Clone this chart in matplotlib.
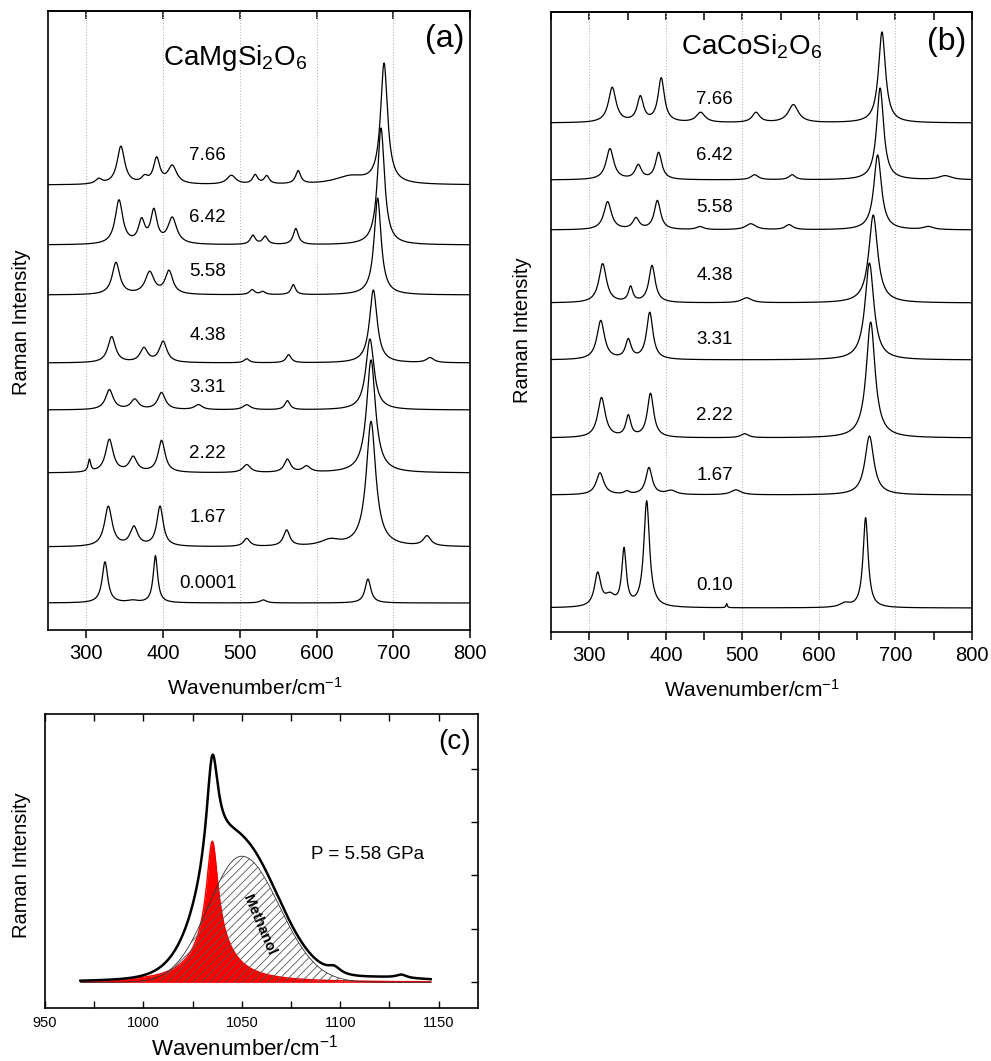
import numpy as np
import matplotlib
matplotlib.use("Agg")
import matplotlib.pyplot as plt
from matplotlib.ticker import MultipleLocator

plt.rcParams['font.family'] = ['Liberation Sans', 'DejaVu Sans']
plt.rcParams['mathtext.default'] = 'regular'
plt.rcParams['hatch.linewidth'] = 0.6

# ---------------- data: panel (a) CaMgSi2O6 ----------------
A_LABELS = ["7.66", "6.42", "5.58", "4.38", "3.31", "2.22", "1.67", "0.0001"]
A_OFFSETS = [445, 385, 335, 267, 220, 157, 83, 27]
A_LABEL_Y = [475, 413, 359, 295, 243, 177, 113, 46]
# peaks: (position cm-1, height, half width)
A_PEAKS = [
    [(316, 5, 5), (345, 38, 6), (376, 6, 5), (391.6, 25, 5), (412, 18, 7), (489, 9, 7),
     (520, 9, 4), (535, 8, 4), (576, 13, 4), (644, 8, 25), (688, 120, 5.5)],
    [(342.5, 44, 6), (372, 22, 5), (388, 32, 5), (412, 26, 7), (517, 9, 4), (533, 8, 4),
     (573, 16, 4), (684, 117, 5.5)],
    [(338.6, 32, 6), (382.5, 22, 7), (407.7, 23, 6), (516, 5, 4), (530, 3, 4),
     (569.7, 10, 3.5), (679.6, 97, 5.5)],
    [(333, 26, 6), (375, 14, 6), (400, 21, 6), (509, 4, 4), (563.6, 8, 4),
     (748, 5, 6), (674, 73, 6)],
    [(330, 20, 6), (363, 10, 6), (398, 17, 6), (446, 5, 6), (509, 5, 6),
     (562, 9, 4), (669.6, 71, 6.5)],
    [(304, 12, 2), (330, 33, 6), (361, 15, 6), (398, 32, 5.5), (509, 8, 6),
     (562, 13, 5), (587, 6, 6), (671, 113, 7)],
    [(328.6, 40, 6), (362, 19, 6), (396, 40, 5), (509, 8, 5), (561, 16, 5),
     (618, 6, 15), (744, 10, 6), (671, 125, 7.5)],
    [(324.3, 41, 4.5), (360, 2, 8), (390, 47, 3.5), (530.6, 3, 5), (667, 24, 4.5)],
]

# ---------------- data: panel (b) CaCoSi2O6 ----------------
B_LABELS = ["7.66", "6.42", "5.58", "4.38", "3.31", "2.22", "1.67", "0.10"]
B_OFFSETS = [509, 452, 402, 329, 272, 194, 137, 24]
B_LABEL_Y = [533, 477, 425, 356, 292, 216, 157, 46]
B_PEAKS = [
    [(330, 35, 6), (366.7, 25, 5), (394, 44, 5), (445.5, 10, 7), (517.8, 10, 6),
     (566.6, 18, 8), (682.4, 91, 5.5)],
    [(327, 31, 6), (364, 14, 5), (390.6, 27, 5), (516, 5, 6), (565, 5, 5),
     (680, 92, 5.5), (765, 4, 10)],
    [(324, 28, 6), (361, 11, 5), (389, 29, 5), (444.7, 3, 6), (511, 6, 8),
     (561, 5, 6), (676.7, 75, 6), (743, 3, 8)],
    [(317.5, 39, 6), (354, 15, 3.5), (382, 37, 5), (505.6, 5, 8), (671, 88, 7)],
    [(315, 39, 6), (351, 19, 4.5), (379, 47, 5), (666, 97, 7)],
    [(316, 40, 6), (351, 21, 4), (380, 44, 5), (503, 4, 6), (667.6, 116, 7)],
    [(314, 22, 6), (349, 3, 4), (378, 27, 5), (407, 4, 8), (491.6, 5, 8), (666, 59, 7)],
    [(311, 33, 5), (327, 10, 8), (345.4, 56, 3.5), (375, 106, 4.5), (479.5, 4, 1),
     (634, 4, 8), (661, 90, 4)],
]

# ---------------- data: panel (c) fit at 5.58 GPa ----------------
C_RANGE = (968, 1146)
RED_COMPONENTS = [(1035, 1.9, 3.5), (1035, 0.74, 12)]   # (pos, height, half width)
METHANOL = (1050, 2.36, 17, 19)                          # (pos, height, sigma left, sigma right)
BLACK_EXTRA = [(1097, 0.12, 4), (1120, 0.08, 30), (1131, 0.06, 3)]


def lorentz(x, pos, h, w):
    return h / (1.0 + ((x - pos) / w) ** 2)


def spectrum(x, base, peaks):
    y = np.full_like(x, float(base))
    for p, h, w in peaks:
        y += lorentz(x, p, h, w)
    return y


W, H = 991, 1061
fig = plt.figure(figsize=(W / 100, H / 100), dpi=100)


def style_main(ax, minor):
    ax.set_xlim(250, 800)
    ax.xaxis.set_major_locator(MultipleLocator(100))
    if minor:
        ax.xaxis.set_minor_locator(MultipleLocator(50))
    ax.tick_params(axis='x', which='both', direction='out', length=6, width=1.1,
                   labelsize=14.5, top=False, pad=4)
    ax.set_yticks([])
    ax.grid(axis='x', which='major', linestyle=':', color='#b8b8b8', linewidth=0.8)
    for s in ax.spines.values():
        s.set_linewidth(1.2)
    sec = ax.secondary_xaxis('top')
    sec.xaxis.set_major_locator(MultipleLocator(100))
    if minor:
        sec.xaxis.set_minor_locator(MultipleLocator(50))
    sec.tick_params(axis='x', which='both', direction='in', length=6, width=1.1,
                    labeltop=False)
    sec.spines['top'].set_linewidth(1.2)


x = np.arange(250, 800.01, 0.5)

# panel (a)
axa = fig.add_axes([48 / W, 1 - 630 / H, 422 / W, 619 / H])
for lab, off, ly, pk in zip(A_LABELS, A_OFFSETS, A_LABEL_Y, A_PEAKS):
    axa.plot(x, spectrum(x, off, pk), color='black', lw=0.9)
    axa.text(458, ly, lab, ha='center', va='center', fontsize=13.5)
axa.set_ylim(0, 619)
style_main(axa, minor=False)
axa.text(0.443, 0.924, "CaMgSi$_2$O$_6$", transform=axa.transAxes, ha='center',
         va='center', fontsize=20)
axa.text(0.94, 0.955, "(a)", transform=axa.transAxes, ha='center', va='center', fontsize=23)

# panel (b)
axb = fig.add_axes([551 / W, 1 - 632 / H, 421 / W, 620 / H])
for lab, off, ly, pk in zip(B_LABELS, B_OFFSETS, B_LABEL_Y, B_PEAKS):
    axb.plot(x, spectrum(x, off, pk), color='black', lw=0.9)
    axb.text(464, ly, lab, ha='center', va='center', fontsize=13.5)
axb.set_ylim(0, 620)
style_main(axb, minor=True)
axb.text(0.477, 0.944, "CaCoSi$_2$O$_6$", transform=axb.transAxes, ha='center',
         va='center', fontsize=20)
axb.text(0.94, 0.952, "(b)", transform=axb.transAxes, ha='center', va='center', fontsize=23)

fig.text(22 / W, 1 - 322 / H, "Raman Intensity", rotation=90, ha='center', va='center',
         fontsize=14.5)
fig.text(523 / W, 1 - 330 / H, "Raman Intensity", rotation=90, ha='center', va='center',
         fontsize=14.5)
fig.text(255 / W, 1 - 688 / H, "Wavenumber/cm$^{-1}$", ha='center', va='center', fontsize=15)
fig.text(752 / W, 1 - 690 / H, "Wavenumber/cm$^{-1}$", ha='center', va='center', fontsize=15)

# panel (c)
axc = fig.add_axes([45 / W, 1 - 1008 / H, 433 / W, 294 / H])
xc = np.arange(C_RANGE[0], C_RANGE[1] + 0.01, 0.25)
red = spectrum(xc, 0.0, RED_COMPONENTS)
mp, mh, msl, msr = METHANOL
sig = np.where(xc < mp, msl, msr)
meth = mh * np.exp(-((xc - mp) ** 2) / (2 * sig ** 2))
black = red + meth + spectrum(xc, 0.0, BLACK_EXTRA)

axc.fill_between(xc, 0, red, color='#ff0000', lw=0, zorder=2)
axc.plot(xc, red, color='#ee0000', lw=1.0, zorder=2)
axc.fill_between(xc, 0, meth, facecolor='none', edgecolor='#555555', hatch='////',
                 lw=0, zorder=3)
axc.plot(xc, meth, color='#333333', lw=0.6, zorder=3)
axc.plot(xc, black, color='black', lw=1.8, zorder=4)

axc.set_xlim(950, 1170)
axc.set_ylim(-0.48, 5.02)
axc.xaxis.set_major_locator(MultipleLocator(50))
axc.xaxis.set_minor_locator(MultipleLocator(25))
axc.tick_params(axis='x', which='both', direction='in', top=True, length=5, width=1,
                labelsize=10.5, pad=6)
axc.yaxis.tick_right()
axc.set_yticks([0, 1, 2, 3, 4])
axc.tick_params(axis='y', which='both', direction='in', length=5, width=1,
                labelright=False)
for s in axc.spines.values():
    s.set_linewidth(1.2)
axc.text(1114, 2.4, "P = 5.58 GPa", ha='center', va='center', fontsize=13.5)
axc.text(1059, 1.08, "Methanol", ha='center', va='center', fontsize=10.5,
         fontweight='bold', rotation=-67, zorder=5)
axc.text(0.945, 0.905, "(c)", transform=axc.transAxes, ha='center', va='center', fontsize=20)

fig.text(22 / W, 1 - 865 / H, "Raman Intensity", rotation=90, ha='center', va='center',
         fontsize=14.5)
fig.text(245 / W, 1 - 1048 / H, "Wavenumber/cm$^{-1}$", ha='center', va='center', fontsize=16)

fig.savefig("out.png", dpi=100)
